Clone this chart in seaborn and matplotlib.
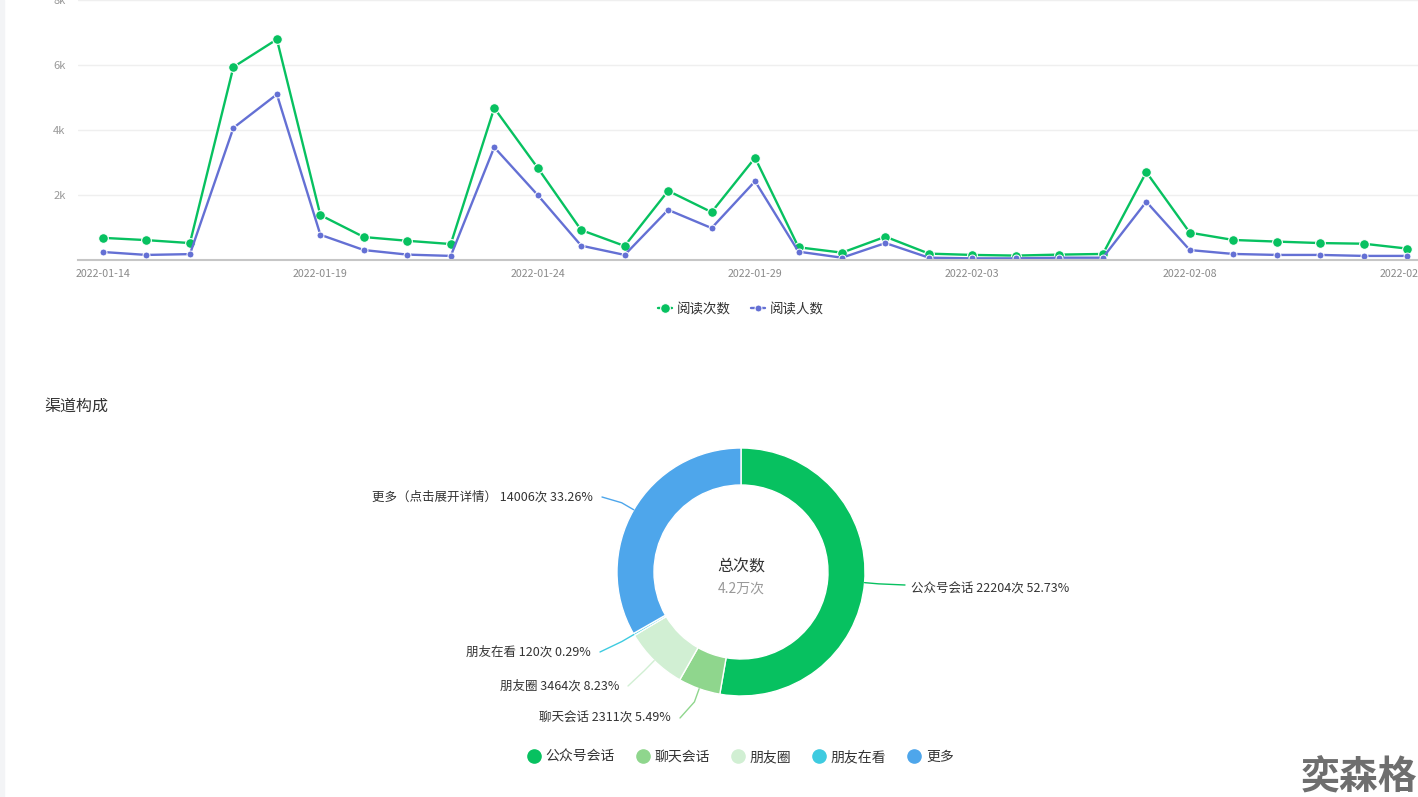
import numpy as np
import pandas as pd
import seaborn as sns
import matplotlib.pyplot as plt
from matplotlib.lines import Line2D
from matplotlib.patches import Rectangle

sns.set_style("white")
plt.rcParams["font.family"] = ["Noto Sans CJK SC", "DejaVu Sans"]

# ---- data ----
dates = pd.date_range("2022-01-14", "2022-02-13").strftime("%Y-%m-%d").tolist()
reads = [690, 620, 530, 5940, 6790, 1390, 715, 600, 500, 4680, 2840, 930, 440,
         2135, 1480, 3150, 400, 235, 725, 205, 165, 145, 175, 195, 2710, 850,
         625, 575, 530, 510, 360]
readers = [255, 165, 190, 4070, 5100, 785, 315, 175, 135, 3475, 2005, 450, 165,
           1550, 990, 2430, 265, 80, 530, 80, 60, 60, 80, 80, 1800, 315,
           195, 165, 165, 135, 135]

channels = ["公众号会话", "聊天会话", "朋友圈", "朋友在看", "更多"]
channel_labels = ["公众号会话", "聊天会话", "朋友圈", "朋友在看", "更多（点击展开详情）"]
channel_counts = [22204, 2311, 3464, 120, 14006]
channel_colors = ["#07c160", "#8fd68d", "#d1efd3", "#3ecbe0", "#4ea6eb"]

green = "#07c160"
blue = "#6470d4"
W, H = 1418, 797

fig = plt.figure(figsize=(W / 100, H / 100), dpi=100)
fig.add_artist(Rectangle((0, 0), 4 / W, 1, transform=fig.transFigure,
                         color="#f3f4f6", zorder=0))

# ---- line chart ----
ax = fig.add_axes([78 / W, 1 - 260.3 / H, 1 - 78 / W, 260.3 / H])
days = np.arange(len(dates))
sns.lineplot(x=days, y=reads, ax=ax, color=green, lw=1.7, marker="o",
             markersize=7, markeredgecolor="white", markeredgewidth=0.8,
             label="阅读次数")
sns.lineplot(x=days, y=readers, ax=ax, color=blue, lw=1.7, marker="o",
             markersize=5, markeredgecolor="white", markeredgewidth=0.7,
             label="阅读人数")
ax.set_xlim(-0.575, 30.25)
ax.set_ylim(0, 8000)
ax.set_yticks([2000, 4000, 6000, 8000])
ax.set_yticklabels(["2k", "4k", "6k", "8k"])
ax.set_xticks(days[::5])
ax.set_xticklabels(dates[::5])
ax.tick_params(axis="y", length=0, pad=9, labelsize=8, labelcolor="#999999")
ax.tick_params(axis="x", length=0, pad=6, labelsize=7.7, labelcolor="#8a8a8a")
ax.yaxis.grid(True, color="#efefef", lw=1)
ax.xaxis.grid(False)
for s in ["left", "top", "right"]:
    ax.spines[s].set_visible(False)
ax.spines["bottom"].set_color("#c6c6c6")
ax.spines["bottom"].set_linewidth(1.5)
ax.set_xlabel("")
ax.set_ylabel("")
handles, labels = ax.get_legend_handles_labels()
leg = ax.legend(handles, labels, loc="center", bbox_to_anchor=(741 / W, 1 - 309 / H),
                bbox_transform=fig.transFigure, ncol=2, frameon=False,
                fontsize=9.7, handlelength=1.0, columnspacing=1.5,
                handletextpad=0.4, labelcolor="#333333")

# ---- donut ----
pax = fig.add_axes([0, 0, 1, 1])
pax.patch.set_visible(False)
cx, cy, r_out, r_in = 741, H - 572, 124, 87
wedges, _ = pax.pie(channel_counts, colors=channel_colors, startangle=90,
                    counterclock=False, radius=r_out, center=(cx, cy),
                    wedgeprops=dict(width=r_out - r_in, edgecolor="white", linewidth=1))
pax.set_xlim(0, W)
pax.set_ylim(0, H)
pax.axis("off")

total = sum(channel_counts)
label_ends = [(905, 585), (680, 718), (628, 686), (600, 652), (602, 497)]
for w, name, cnt, col, (ex, ey) in zip(wedges, channel_labels, channel_counts,
                                        channel_colors, label_ends):
    ang = np.deg2rad((w.theta1 + w.theta2) / 2)
    p0 = (cx + r_out * np.cos(ang), cy + r_out * np.sin(ang))
    p1 = (cx + (r_out + 14) * np.cos(ang), cy + (r_out + 14) * np.sin(ang))
    p2 = (ex, H - ey)
    pax.plot([p0[0], p1[0], p2[0]], [p0[1], p1[1], p2[1]], color=col, lw=1)
    txt = f"{name} {cnt}次 {cnt / total * 100:.2f}%"
    if ex > cx:
        pax.text(ex + 6, H - ey - 4, txt, ha="left", va="center", fontsize=9, color="#333333")
    else:
        pax.text(ex - 9, H - ey, txt, ha="right", va="center", fontsize=9, color="#333333")

pax.text(cx, H - 567, "总次数", ha="center", va="center", fontsize=11.5, color="#333333")
pax.text(cx, H - 589, f"{total / 1e4:.1f}万次", ha="center", va="center",
         fontsize=10, color="#999999")

pax.text(44, H - 406, "渠道构成", ha="left", va="center", fontsize=11.5, color="#333333")

leg_handles = [Line2D([], [], marker="o", linestyle="", markersize=9.5, color=c)
               for c in channel_colors]
pax.legend(leg_handles, channels, loc="center", bbox_to_anchor=(cx, H - 757),
           bbox_transform=pax.transData, ncol=5, frameon=False, fontsize=10,
           handlelength=0.8, handletextpad=0.45, columnspacing=1.6,
           labelcolor="#333333")

pax.text(1359, H - 778, "奕森格", ha="center", va="center", fontsize=28,
         fontweight="bold", color="#6e6e6e")

fig.savefig("out.png", dpi=100)
